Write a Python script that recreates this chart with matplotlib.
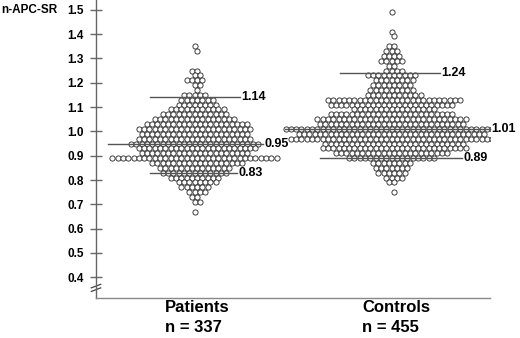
import matplotlib
matplotlib.use("Agg")
import numpy as np
import matplotlib.pyplot as plt

plt.rcParams["font.family"] = ["Liberation Sans", "DejaVu Sans"]
plt.rcParams["font.weight"] = "bold"

GROUPS = ["Patients", "Controls"]
GROUP_N = [337, 455]

# dot rows: value level and number of dots in that row
PATIENT_LEVELS = [1.35, 1.33, 1.25, 1.23, 1.21, 1.19, 1.17, 1.15, 1.13, 1.11,
                  1.09, 1.07, 1.05, 1.03, 1.01, 0.99, 0.97, 0.95, 0.93, 0.91,
                  0.89, 0.87, 0.85, 0.83, 0.81, 0.79, 0.77, 0.75, 0.73, 0.71,
                  0.67]
PATIENT_COUNTS = [1, 1, 2, 2, 4, 2, 1, 5, 7, 8,
                  11, 13, 16, 20, 22, 21, 22, 25, 23, 21,
                  32, 18, 14, 13, 10, 8, 6, 4, 2, 2,
                  1]

CONTROL_LEVELS = [1.49, 1.41, 1.39, 1.35, 1.33, 1.31, 1.29, 1.27, 1.25, 1.23,
                  1.21, 1.19, 1.17, 1.15, 1.13, 1.11, 1.09, 1.07, 1.05, 1.03,
                  1.01, 0.99, 0.97, 0.95, 0.93, 0.91, 0.89, 0.87, 0.85, 0.83,
                  0.81, 0.79, 0.75]
CONTROL_COUNTS = [1, 1, 1, 2, 3, 4, 5, 2, 4, 10,
                  8, 8, 9, 11, 26, 24, 16, 24, 29, 28,
                  42, 36, 39, 27, 28, 22, 17, 8, 7, 6,
                  4, 2, 1]

# summary values with the x span of their lines (x data units)
PATIENT_STATS = [1.14, 0.95, 0.83]
CONTROL_STATS = [1.24, 1.01, 0.89]

DOT_STEP = 0.0269
ROW_STEP = 0.02


def swarm_points(center, levels, counts):
    """
    Lay dots out in centred rows, shifting alternate rows half a dot
    so neighbouring rows pack like a honeycomb.
    """
    xs = []
    ys = []
    top = max(levels)
    for level, n in zip(levels, counts):
        k = int(round((top - level) / ROW_STEP))
        shift = 0.0
        if (n % 2 == 0) != (k % 2 == 1):
            shift = 0.5 * DOT_STEP
        for j in range(n):
            xs.append(center + (j - (n - 1) / 2) * DOT_STEP + shift)
            ys.append(level)
    return np.array(xs), np.array(ys)


fig = plt.figure(figsize=(5.2, 3.38), dpi=100)
ax = fig.add_axes([96 / 520, 40 / 338, 394 / 520, 298 / 338])

for center, levels, counts in [(1, PATIENT_LEVELS, PATIENT_COUNTS),
                               (2, CONTROL_LEVELS, CONTROL_COUNTS)]:
    xs, ys = swarm_points(center, levels, counts)
    ax.scatter(xs, ys, s=14, facecolor="white", edgecolor="#222222",
               linewidth=0.6, zorder=2)

line_spans = [
    (PATIENT_STATS[0], 0.774, 1.231),
    (PATIENT_STATS[1], 0.561, 1.348),
    (PATIENT_STATS[2], 0.774, 1.216),
    (CONTROL_STATS[0], 1.739, 2.246),
    (CONTROL_STATS[1], 1.459, 2.500),
    (CONTROL_STATS[2], 1.637, 2.358),
]
for value, x0, x1 in line_spans:
    ax.plot([x0, x1], [value, value], color="#555555", lw=1.0, zorder=3,
            clip_on=False)
    ax.text(x1 + 0.006, value, f"{value:.2f}", ha="left", va="center",
            fontsize=9, fontweight="bold", clip_on=False)

ax.set_xlim(0.5, 2.5)
ax.set_ylim(0.315, 1.54)
ticks = np.arange(0.4, 1.51, 0.1)
ax.set_yticks(ticks)
ax.set_yticklabels([f"{t:.1f}" for t in ticks])
ax.tick_params(axis="y", direction="inout", length=8, width=1,
               color="#666666", pad=5, labelsize=8.5)
ax.set_xticks([])

for side in ["top", "right"]:
    ax.spines[side].set_visible(False)
ax.spines["left"].set_color("#666666")
ax.spines["bottom"].set_color("#888888")
ax.spines["left"].set_linewidth(1)
ax.spines["bottom"].set_linewidth(1)

# axis break marks
for dy in [0.0, 0.012]:
    ax.plot([-0.012, 0.012], [0.022 + dy, 0.034 + dy], color="#444444",
            lw=0.9, transform=ax.transAxes, clip_on=False)

fig.text(0.002, 1 - 10 / 338, "n-APC-SR", ha="left", va="center",
         fontsize=8.5, fontweight="bold")

for x_px, name, n in [(165, GROUPS[0], GROUP_N[0]), (362, GROUPS[1], GROUP_N[1])]:
    fig.text(x_px / 520, 1 - 308 / 338, name, ha="left", va="center",
             fontsize=12, fontweight="bold")
    fig.text(x_px / 520, 1 - 327 / 338, f"n = {n}", ha="left", va="center",
             fontsize=12, fontweight="bold")

fig.savefig("out.png", dpi=100, facecolor="white")
